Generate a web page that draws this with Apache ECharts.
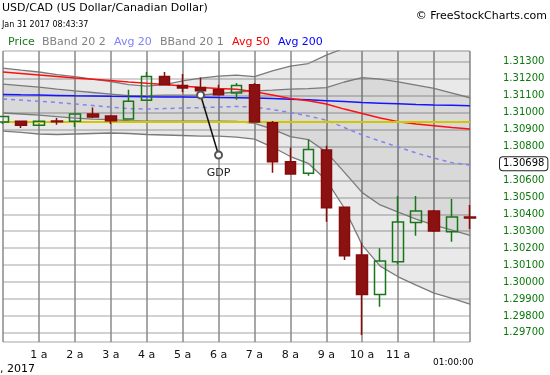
<!DOCTYPE html>
<html>
<head>
<meta charset="utf-8">
<script src="https://cdn.jsdelivr.net/npm/echarts@6/dist/echarts.min.js"></script>
<style>html,body{margin:0;padding:0;background:#fff;}#c{width:550px;height:375px;}</style>
</head>
<body>
<div id="c"></div>
<script>
// ---- data (30-minute candles, Jan 31 2017) ----
const TIMES = ['00:00','00:30','01:00','01:30','02:00','02:30','03:00','03:30','04:00','04:30','05:00','05:30','06:00','06:30','07:00','07:30','08:00','08:30','09:00','09:30','10:00','10:30','11:00','11:30','12:00','12:30','13:00'];
const HOUR_LABELS = {'01:00':'1 a','02:00':'2 a','03:00':'3 a','04:00':'4 a','05:00':'5 a','06:00':'6 a','07:00':'7 a','08:00':'8 a','09:00':'9 a','10:00':'10 a','11:00':'11 a'};
const OPEN  = [1.30945,1.30949,1.30925,1.30950,1.30949,1.30992,1.30980,1.30962,1.31073,1.31214,1.31161,1.31149,1.31135,1.31116,1.31165,1.30940,1.30710,1.30642,1.30779,1.30441,1.30159,1.29927,1.30120,1.30352,1.30419,1.30297,1.30384];
const CLOSE = [1.30977,1.30925,1.30949,1.30947,1.30992,1.30974,1.30952,1.31068,1.31214,1.31165,1.31145,1.31129,1.31106,1.31161,1.30945,1.30710,1.30638,1.30783,1.30439,1.30155,1.29927,1.30124,1.30354,1.30419,1.30301,1.30384,1.30378];
const LOW   = [1.30933,1.30909,1.30925,1.30929,1.30915,1.30968,1.30933,1.30962,1.31073,1.31165,1.31120,1.31106,1.31106,1.31076,1.30945,1.30645,1.30638,1.30628,1.30356,1.30130,1.29687,1.29854,1.30104,1.30273,1.30295,1.30238,1.30313];
const HIGH  = [1.30980,1.30949,1.30949,1.30968,1.30992,1.31031,1.30980,1.31135,1.31240,1.31240,1.31228,1.31208,1.31165,1.31175,1.31175,1.30950,1.30795,1.30842,1.30805,1.30445,1.30232,1.30199,1.30508,1.30508,1.30425,1.30490,1.30455];
const AVG50  = [1.31240,1.31231,1.31222,1.31213,1.31204,1.31197,1.31190,1.31181,1.31173,1.31166,1.31157,1.31149,1.31142,1.31138,1.31123,1.31104,1.31084,1.31070,1.31051,1.31021,1.30995,1.30968,1.30947,1.30933,1.30923,1.30912,1.30903];
const AVG200 = [1.31107,1.31105,1.31104,1.31102,1.31100,1.31099,1.31097,1.31096,1.31094,1.31093,1.31092,1.31091,1.31089,1.31088,1.31086,1.31083,1.31079,1.31076,1.31071,1.31066,1.31060,1.31056,1.31052,1.31048,1.31045,1.31043,1.31041];
const AVG20  = [1.31080,1.31074,1.31068,1.31060,1.31051,1.31042,1.31033,1.31024,1.31021,1.31024,1.31027,1.31030,1.31033,1.31036,1.31033,1.31018,1.31001,1.30980,1.30956,1.30912,1.30868,1.30832,1.30797,1.30762,1.30732,1.30705,1.30690];
const BB2_UP = [1.31263,1.31251,1.31240,1.31225,1.31213,1.31198,1.31184,1.31166,1.31157,1.31166,1.31187,1.31204,1.31216,1.31222,1.31213,1.31246,1.31275,1.31290,1.31340,1.31381,1.31511,1.31570,1.31564,1.31541,1.31529,1.31508,1.31494];
const BB2_LO = [1.30891,1.30883,1.30874,1.30871,1.30874,1.30877,1.30880,1.30877,1.30871,1.30868,1.30865,1.30862,1.30862,1.30856,1.30844,1.30797,1.30741,1.30700,1.30602,1.30437,1.30218,1.30094,1.30031,1.29982,1.29935,1.29903,1.29870];
const BB1_UP = [1.31169,1.31160,1.31151,1.31139,1.31128,1.31119,1.31110,1.31101,1.31101,1.31104,1.31104,1.31104,1.31113,1.31122,1.31128,1.31133,1.31139,1.31142,1.31148,1.31181,1.31207,1.31198,1.31182,1.31163,1.31143,1.31116,1.31088];
const BB1_LO = [1.30998,1.30992,1.30986,1.30977,1.30968,1.30962,1.30959,1.30953,1.30950,1.30950,1.30950,1.30950,1.30950,1.30949,1.30937,1.30903,1.30859,1.30841,1.30767,1.30649,1.30528,1.30455,1.30413,1.30372,1.30336,1.30307,1.30275];
const REF_LEVEL = 1.30945;
const LAST_VALUE = 1.30698;
const GDP_NOTE = [['05:30', 1.31104], ['06:00', 1.30750]];
const Y_MIN = 1.29646, Y_MAX = 1.31364, Y_STEP = 0.001;

// ---- build ----
const FONT = 'DejaVu Sans';
const candleData = TIMES.map((t, i) => [OPEN[i], CLOSE[i], LOW[i], HIGH[i]]);
const diff = (a, b) => a.map((v, i) => +(v - b[i]).toFixed(6));
const bandLine = {color: '#7a7a7a', width: 1.3};
const LIGHT = 'rgba(0,0,0,0.12)';
const DARK = 'rgba(0,0,0,0.21)';
const isTick = v => Math.abs(v / Y_STEP - Math.round(v / Y_STEP)) < 1e-6;

const chart = echarts.init(document.getElementById('c'), null, {renderer: 'canvas'});
chart.setOption({
  animation: false,
  backgroundColor: '#fff',
  grid: {left: 0, right: 80, top: 51, bottom: 33},
  xAxis: {
    type: 'category', data: TIMES, boundaryGap: false,
    axisLine: {show: false}, axisTick: {show: false},
    axisLabel: {interval: 1, margin: 8, color: '#111', fontFamily: FONT, fontSize: 11,
      formatter: v => HOUR_LABELS[v] || ''},
    splitLine: {show: true, interval: 1, lineStyle: {color: '#8a8a8a', width: 1.5}}
  },
  yAxis: {
    type: 'value', position: 'right', min: Y_MIN, max: Y_MAX,
    minInterval: Y_STEP, maxInterval: Y_STEP,
    axisLine: {show: false}, axisTick: {show: false},
    splitLine: {show: true, lineStyle: {color: '#d2d2d2', width: 2}},
    axisLabel: {color: '#0b780b', fontFamily: FONT, fontSize: 10, margin: 33, align: 'left',
      showMinLabel: false, showMaxLabel: false,
      formatter: v => isTick(v) ? v.toFixed(5) : ''}
  },
  series: [
    {type: 'line', name: 'BBand 20 2', stack: 'bb', data: BB2_LO, symbol: 'none', z: 2, lineStyle: bandLine},
    {type: 'line', name: 'bb2lo-bb1lo', stack: 'bb', data: diff(BB1_LO, BB2_LO), symbol: 'none', z: 2, lineStyle: bandLine, areaStyle: {color: LIGHT}},
    {type: 'line', name: 'BBand 20 1', stack: 'bb', data: diff(BB1_UP, BB1_LO), symbol: 'none', z: 2, lineStyle: bandLine, areaStyle: {color: DARK}},
    {type: 'line', name: 'bb1up-bb2up', stack: 'bb', data: diff(BB2_UP, BB1_UP), symbol: 'none', z: 2, lineStyle: bandLine, areaStyle: {color: LIGHT}},
    {type: 'line', name: 'Avg 20', data: AVG20, symbol: 'none', z: 3, lineStyle: {color: '#8383f5', width: 1.5, type: [4, 4]}},
    {type: 'line', name: 'Avg 200', data: AVG200, symbol: 'none', z: 3, lineStyle: {color: '#1515ff', width: 1.5}},
    {type: 'line', name: 'Avg 50', data: AVG50, symbol: 'none', z: 3, lineStyle: {color: '#ff1010', width: 1.5}},
    {type: 'line', name: 'ref', data: TIMES.map(() => REF_LEVEL), symbol: 'none', z: 3, lineStyle: {color: '#d2c600', width: 2}},
    {type: 'candlestick', name: 'Price', data: candleData, z: 5, barWidth: 11, clip: false,
      itemStyle: {color: 'rgba(0,0,0,0)', color0: '#8a1212', borderColor: '#197519', borderColor0: '#8a0a0a', borderWidth: 1.5}},
    {type: 'line', name: 'GDP', data: GDP_NOTE, z: 6, symbol: 'emptyCircle', symbolSize: 7,
      lineStyle: {color: '#111', width: 1.5}, itemStyle: {color: '#555', borderWidth: 1},
      label: {show: true, position: 'bottom', distance: 8, fontFamily: FONT, fontSize: 11, color: '#222',
        formatter: p => p.dataIndex === 1 ? 'GDP' : ''}},
    {type: 'scatter', name: 'last', data: [[TIMES[TIMES.length - 1], LAST_VALUE]], symbol: 'circle', symbolSize: 2, z: 7, silent: true, clip: false,
      itemStyle: {color: 'rgba(0,0,0,0)'},
      labelLayout: {hideOverlap: false},
      label: {show: true, position: 'right', distance: 29, opacity: 1, formatter: () => LAST_VALUE.toFixed(5),
        fontFamily: FONT, fontSize: 10, color: '#000', backgroundColor: '#fff',
        borderColor: '#222', borderWidth: 1, borderRadius: 3, padding: [2, 3, 1, 3]}}
  ],
  graphic: [
    {type: 'text', left: 2, top: 3, style: {text: 'USD/CAD (US Dollar/Canadian Dollar)', font: '11px "DejaVu Sans"', fill: '#000'}},
    {type: 'text', left: 2, top: 21, style: {text: 'Jan 31 2017 08:43:37', font: '8px "DejaVu Sans"', fill: '#000'}},
    {type: 'text', right: 3, top: 11, style: {text: '\u00A9 FreeStockCharts.com', font: '11px "DejaVu Sans"', fill: '#000'}},
    {type: 'text', left: 8, top: 37, style: {text: 'Price', font: '11px "DejaVu Sans"', fill: '#1b7a1b'}},
    {type: 'text', left: 42, top: 37, style: {text: 'BBand 20 2', font: '11px "DejaVu Sans"', fill: '#808080'}},
    {type: 'text', left: 114, top: 37, style: {text: 'Avg 20', font: '11px "DejaVu Sans"', fill: '#8080ff'}},
    {type: 'text', left: 160, top: 37, style: {text: 'BBand 20 1', font: '11px "DejaVu Sans"', fill: '#808080'}},
    {type: 'text', left: 232, top: 37, style: {text: 'Avg 50', font: '11px "DejaVu Sans"', fill: '#ff0000'}},
    {type: 'text', left: 278, top: 37, style: {text: 'Avg 200', font: '11px "DejaVu Sans"', fill: '#0000ff'}},
    {type: 'text', left: 0, top: 364, style: {text: ', 2017', font: '11px "DejaVu Sans"', fill: '#000'}},
    {type: 'text', left: 433, top: 358, style: {text: '01:00:00', font: '9px "DejaVu Sans"', fill: '#000'}}
  ]
});
</script>
</body>
</html>
